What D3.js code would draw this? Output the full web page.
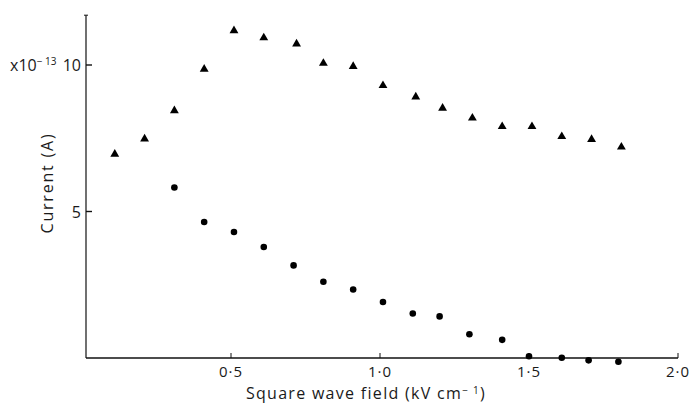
<!DOCTYPE html>
<html>
<head>
<meta charset="utf-8">
<script src="https://cdn.jsdelivr.net/npm/d3@7"></script>
<style>
  body { margin: 0; background: #fff; }
  text { font-family: "Open Sans", "DejaVu Sans", sans-serif; fill: #1a1a1a; }
</style>
</head>
<body>
<script>
// values (current in units of 1e-13 A)
const fieldTri = [0.11, 0.21, 0.31, 0.41, 0.51, 0.61, 0.72, 0.81, 0.91, 1.01, 1.12, 1.21, 1.31, 1.41, 1.51, 1.61, 1.71, 1.81];
const currentTri = [6.96, 7.48, 8.44, 9.86, 11.17, 10.93, 10.72, 10.06, 9.95, 9.30, 8.91, 8.53, 8.19, 7.90, 7.90, 7.56, 7.46, 7.20];

const fieldDot = [0.31, 0.41, 0.51, 0.61, 0.71, 0.81, 0.91, 1.01, 1.11, 1.20, 1.30, 1.41, 1.50, 1.61, 1.70, 1.80];
const currentDot = [5.82, 4.64, 4.30, 3.79, 3.16, 2.60, 2.34, 1.91, 1.52, 1.42, 0.81, 0.62, 0.06, 0.01, -0.08, -0.13];

const xTicks = [0.5, 1.0, 1.5, 2.0];
const yTicks = [5, 10];

const W = 690, H = 408;

const xScale = d3.scaleLinear()
  .domain([0, 2])
  .range([82, 678]);

const yScale = d3.scaleLinear()
  .domain([0, 10])
  .range([358, 65]);

const fmt = d => d3.format('.1f')(d).replace('.', '\u00b7');

const svg = d3.select('body').append('svg')
  .attr('width', W)
  .attr('height', H);

const x0 = 86; // left axis position

// axes lines
svg.append('line')
  .attr('x1', x0).attr('x2', xScale(2))
  .attr('y1', yScale(0)).attr('y2', yScale(0))
  .attr('stroke', '#111').attr('stroke-width', 1.3);

svg.append('line')
  .attr('x1', x0).attr('x2', x0)
  .attr('y1', yScale(0)).attr('y2', yScale(11.7))
  .attr('stroke', '#111').attr('stroke-width', 1.2);

// small cap on top of y axis
svg.append('line')
  .attr('x1', x0 - 2).attr('x2', x0 + 2)
  .attr('y1', yScale(11.7)).attr('y2', yScale(11.7))
  .attr('stroke', '#111').attr('stroke-width', 1);

// x ticks point up
svg.selectAll('.xtick')
  .data(xTicks)
  .enter()
    .append('line')
    .attr('class', 'xtick')
    .attr('x1', d => xScale(d)).attr('x2', d => xScale(d))
    .attr('y1', yScale(0)).attr('y2', yScale(0) - 5)
    .attr('stroke', '#111').attr('stroke-width', 1);

svg.selectAll('.xlab')
  .data(xTicks)
  .enter()
    .append('text')
    .attr('class', 'xlab')
    .attr('x', d => xScale(d))
    .attr('y', 377)
    .attr('text-anchor', 'middle')
    .style('font-size', '15px')
    .style('letter-spacing', '1px')
    .text(fmt);

// y ticks point right
svg.selectAll('.ytick')
  .data(yTicks)
  .enter()
    .append('line')
    .attr('class', 'ytick')
    .attr('x1', x0).attr('x2', x0 + 6)
    .attr('y1', d => yScale(d)).attr('y2', d => yScale(d))
    .attr('stroke', '#111').attr('stroke-width', 1.4);

svg.selectAll('.ylab')
  .data(yTicks)
  .enter()
    .append('text')
    .attr('class', 'ylab')
    .attr('x', 81)
    .attr('y', d => yScale(d) + 6)
    .attr('text-anchor', 'end')
    .style('font-size', '16px')
    .text(d => d);

// multiplier
const mult = svg.append('text')
  .attr('x', 10)
  .attr('y', yScale(10) + 6)
  .style('font-size', '16px');
mult.append('tspan').text('x10');
mult.append('tspan').attr('dy', -6).style('font-size', '10px').text('\u2212 13');

// axis titles
svg.append('text')
  .attr('transform', 'translate(53,183) rotate(-90)')
  .attr('text-anchor', 'middle')
  .style('font-size', '16px')
  .style('letter-spacing', '1.8px')
  .text('Current (A)');

const xt = svg.append('text')
  .attr('x', 366)
  .attr('y', 399)
  .attr('text-anchor', 'middle')
  .style('font-size', '16px')
  .style('letter-spacing', '1.3px');
xt.append('tspan').text('Square wave field (kV cm');
xt.append('tspan').attr('dy', -5).style('font-size', '10px').text('\u2212 1');
xt.append('tspan').attr('dy', 5).text(')');

// triangles
const tri = d3.symbol().type(d3.symbolTriangle).size(34);
svg.selectAll('.tri')
  .data(fieldTri)
  .enter()
    .append('path')
    .attr('class', 'tri')
    .attr('d', tri)
    .attr('transform', (d, i) => 'translate(' + xScale(d) + ',' + yScale(currentTri[i]) + ')')
    .attr('fill', '#000');

// dots
svg.selectAll('.dot')
  .data(fieldDot)
  .enter()
    .append('circle')
    .attr('class', 'dot')
    .attr('cx', d => xScale(d))
    .attr('cy', (d, i) => yScale(currentDot[i]))
    .attr('r', 3.3)
    .attr('fill', '#000');
</script>
</body>
</html>
